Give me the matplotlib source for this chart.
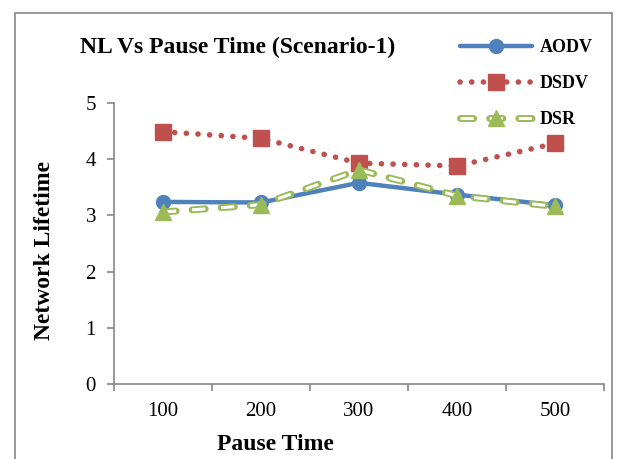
import matplotlib
matplotlib.use('Agg')
import matplotlib.pyplot as plt
from matplotlib.patches import Rectangle
from matplotlib.legend_handler import HandlerTuple

# datos
pause_time = ['100', '200', '300', '400', '500']
aodv = [3.24, 3.23, 3.58, 3.37, 3.18]
dsdv = [4.49, 4.37, 3.93, 3.88, 4.28]
dsr = [3.06, 3.19, 3.81, 3.35, 3.16]

plt.rcParams['font.family'] = 'Liberation Serif'
plt.rcParams['lines.scale_dashes'] = False

azul = '#4F81BD'
rojo = '#C0504D'
verde = '#9BBB59'
gris = '#868686'

fig = plt.figure(figsize=(6.2, 4.59), dpi=100)
ax = fig.add_axes([114/620, 1 - 384/459, (604-114)/620, (384-103)/459])

x = list(range(len(pause_time)))

l_aodv, = ax.plot(x, aodv, color=azul, lw=3.2, marker='o', markersize=10,
                  solid_capstyle='round', zorder=3)
l_dsdv, = ax.plot(x, dsdv, color=rojo, lw=4, marker='s', markersize=11,
                  dashes=(0.1, 8.3), dash_capstyle='round', zorder=3)
# linea doble para DSR (contorno verde, interior blanco)
l_dsr1, = ax.plot(x, dsr, color=verde, lw=5, dashes=(9.5, 11.5),
                  dash_capstyle='round', zorder=3.1)
l_dsr2, = ax.plot(x, dsr, color='white', lw=2.2, dashes=(9.5, 11.5),
                  dash_capstyle='butt', zorder=3.2)
l_dsr3, = ax.plot(x, dsr, color=verde, lw=0, marker='^', markersize=11,
                  zorder=3.3)

ax.set_xlim(-0.5, len(pause_time) - 0.5)
ax.set_ylim(0, 5)
ax.set_yticks([0, 1, 2, 3, 4, 5])
ax.set_xticks([i - 0.5 for i in range(len(pause_time) + 1)])
ax.set_xticklabels([])
ax.set_xticks(x, minor=True)
ax.set_xticklabels(pause_time, minor=True)
ax.tick_params(axis='x', which='major', length=5, color=gris, width=1.2)
ax.tick_params(axis='x', which='minor', length=0, labelsize=15, pad=13)
ax.tick_params(axis='y', length=5, color=gris, width=1.2, labelsize=15, pad=8)

for s in ['top', 'right']:
    ax.spines[s].set_visible(False)
for s in ['left', 'bottom']:
    ax.spines[s].set_color(gris)
    ax.spines[s].set_linewidth(1.2)

fig.text(275/620, 1 - 444/459, 'Pause Time', fontsize=17, fontweight='bold',
         ha='center', va='center')
fig.text(45/620, 1 - 251/459, 'Network Lifetime', fontsize=17,
         fontweight='bold', ha='center', va='center', rotation=90)
fig.text(238/620, 1 - 47/459, 'NL Vs Pause Time (Scenario-1)', fontsize=17,
         fontweight='bold', ha='center', va='center')

fig.legend([l_aodv, l_dsdv, (l_dsr1, l_dsr2, l_dsr3)], ['AODV', 'DSDV', 'DSR'],
           handler_map={tuple: HandlerTuple(ndivide=1, pad=0)},
           loc='upper left', bbox_to_anchor=(444/620, 1 - 23/459),
           frameon=False, prop={'weight': 'bold', 'size': 13},
           handlelength=4.0, handletextpad=0.4, labelspacing=1.05, numpoints=1)

# marco exterior
fig.patches.append(Rectangle((15/620, -0.05), (612-15)/620, 1 - 13/459 + 0.05,
                             transform=fig.transFigure, fill=False,
                             edgecolor=gris, lw=1.2))

fig.savefig('out.png', dpi=100)
